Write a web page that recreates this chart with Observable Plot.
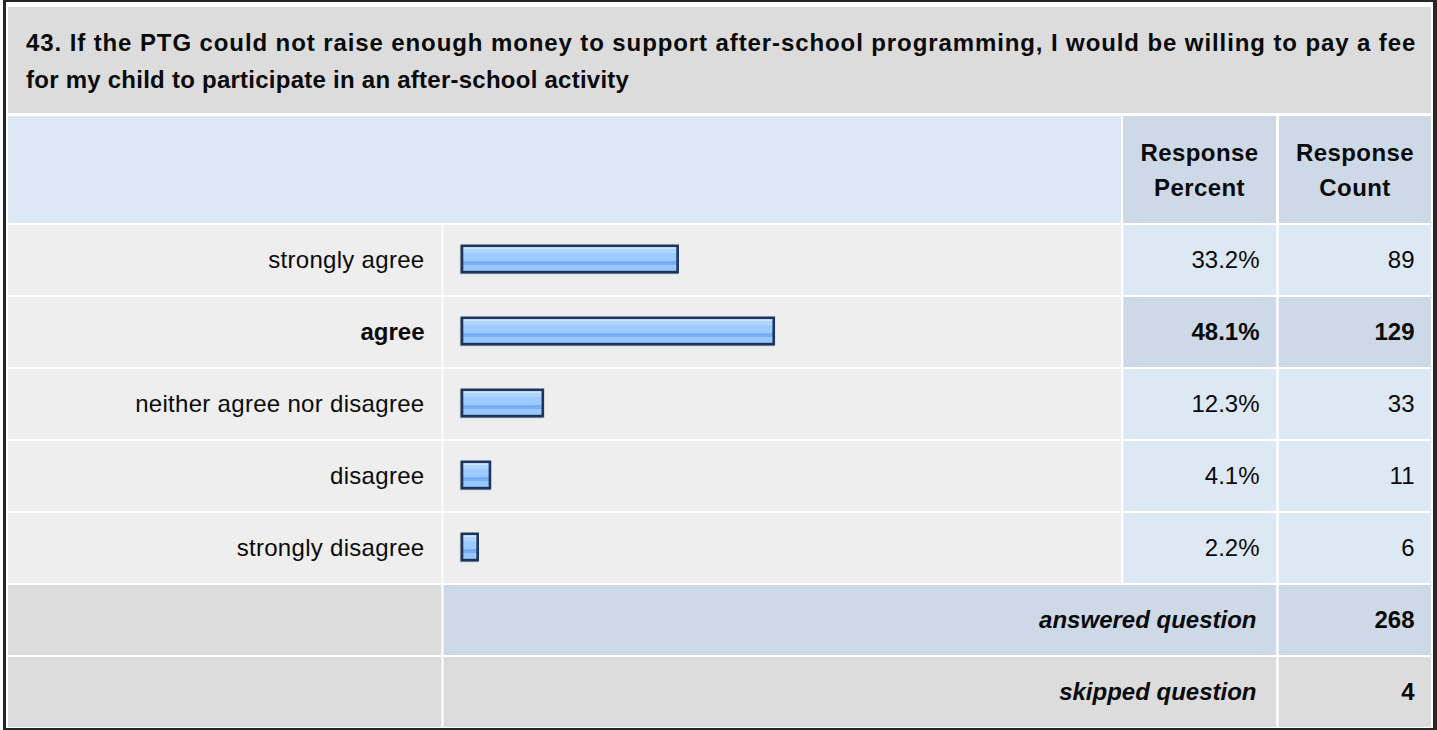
<!DOCTYPE html>
<html>
<head>
<meta charset="utf-8">
<script src="https://cdn.jsdelivr.net/npm/d3@7"></script>
<script src="https://cdn.jsdelivr.net/npm/@observablehq/plot@0.6"></script>
<style>
  html, body { margin: 0; padding: 0; background: #fff; }
  #wrap { position: absolute; left: 0; top: 0; width: 1437px; height: 730px; background: #fff; overflow: hidden;
          font-family: "Liberation Sans", Arial, Helvetica, sans-serif; color: #0a0a0a; }
  .b { position: absolute; background: #262626; }
  .cell { position: absolute; box-sizing: border-box; }
  #title { left: 8px; top: 7px; width: 1423px; height: 106px; background: #dcdcdc; padding-left: 18px;
           display: flex; flex-direction: column; justify-content: center; font-weight: bold; font-size: 24px;
           line-height: 37px; padding-top: 1px; white-space: nowrap; }
  #title div:first-child { letter-spacing: 0.9px; }
  #title div:last-child { letter-spacing: 0.25px; }
  .hdr { top: 116px; height: 107px; background: #cdd9e6; display: flex; flex-direction: column; justify-content: center;
         align-items: center; font-weight: bold; font-size: 24px; line-height: 35px; padding-top: 1px; letter-spacing: 0.4px; }
  #plot { position: absolute; left: 0; top: 224.7px; }
</style>
</head>
<body>
<div id="wrap">
  <div class="b" style="left:3px;top:0;width:1434px;height:2px"></div>
  <div class="b" style="left:3px;top:0;width:3px;height:730px"></div>
  <div class="b" style="left:1433px;top:0;width:4px;height:730px"></div>
  <div class="b" style="left:3px;top:728px;width:1434px;height:2px"></div>
  <div id="title" class="cell"></div>
  <div class="cell" style="left:8px;top:116px;width:1113px;height:107px;background:#dce8f5"></div>
  <div id="hdr0" class="cell hdr" style="left:1123px;width:153px"></div>
  <div id="hdr1" class="cell hdr" style="left:1279px;width:152px"></div>
  <div id="plot"></div>
</div>
<script>
// ---------- data ----------
const titleLines = [
  "43. If the PTG could not raise enough money to support after-school programming, I would be willing to pay a fee",
  "for my child to participate in an after-school activity"
];
const headerPercent = ["Response", "Percent"];
const headerCount = ["Response", "Count"];
const categories = ["strongly agree", "agree", "neither agree nor disagree", "disagree", "strongly disagree"];
const percents = [33.2, 48.1, 12.3, 4.1, 2.2];
const counts = [89, 129, 33, 11, 6];
const highlightCategory = "agree";
const footerLabels = ["answered question", "skipped question"];
const footerValues = [268, 4];

// ---------- html parts ----------
document.getElementById("title").innerHTML = titleLines.map(t => `<div>${t}</div>`).join("");
document.getElementById("hdr0").innerHTML = headerPercent.map(t => `<div>${t}</div>`).join("");
document.getElementById("hdr1").innerHTML = headerCount.map(t => `<div>${t}</div>`).join("");

// ---------- plot ----------
const W = 1437;
const rows = categories.map((c, i) => ({cat: c, pct: percents[i], count: counts[i], hi: c === highlightCategory}));
const footer = footerLabels.map((l, i) => ({cat: l, value: footerValues[i]}));
const allRows = [...categories, ...footerLabels];

const COL = {
  label: [8, 441.5],
  bar: [443.5, 1121],
  pct: [1123.3, 1276.2],
  cnt: [1278.7, 1431],
  span: [443.5, 1276.2]
};
const cell = (data, col, fill) => Plot.cell(data, {
  y: "cat", fill, insetLeft: col[0], insetRight: W - col[1], insetTop: 0, insetBottom: 2
});

const gradient = () => {
  const defs = d3.create("svg:defs");
  const g = defs.append("linearGradient").attr("id", "barGrad")
    .attr("x1", 0).attr("y1", 0).attr("x2", 0).attr("y2", 1);
  const stops = [
    [0, "#cfe6ff"], [0.14, "#cfe6ff"], [0.14, "#b0d6ff"], [0.27, "#b0d6ff"],
    [0.27, "#9dcbff"], [0.56, "#9dcbff"], [0.56, "#78aff0"], [0.74, "#78aff0"],
    [0.74, "#98c7fb"], [1, "#98c7fb"]
  ];
  for (const [o, c] of stops) g.append("stop").attr("offset", o).attr("stop-color", c);
  return defs.node();
};

const font = {fontFamily: "Liberation Sans, Arial, Helvetica, sans-serif", fontSize: 24, fill: "#0a0a0a"};
const barOpts = {x: "pct", y: "cat", strokeWidth: 2.6, insetTop: 20.8, insetBottom: 24.9, insetLeft: -1.5};

const chart = Plot.plot({
  width: W,
  height: 504,
  margin: 0,
  style: {background: "transparent", fontFamily: "Liberation Sans, Arial, sans-serif"},
  x: {domain: [0, 100], range: [463.5, 1108.5], axis: null},
  y: {domain: allRows, padding: 0, axis: null},
  marks: [
    gradient,
    // answer rows
    cell(rows, COL.label, "#eeeeee"),
    cell(rows, COL.bar, "#eeeeee"),
    cell(rows.filter(d => !d.hi), COL.pct, "#dde8f5"),
    cell(rows.filter(d => !d.hi), COL.cnt, "#dde8f5"),
    cell(rows.filter(d => d.hi), COL.pct, "#cdd9e6"),
    cell(rows.filter(d => d.hi), COL.cnt, "#cdd9e6"),
    // footer rows
    cell(footer, COL.label, "#dcdcdc"),
    cell(footer.slice(0, 1), COL.span, "#cdd9e6"),
    cell(footer.slice(0, 1), COL.cnt, "#cdd9e6"),
    cell(footer.slice(1), COL.span, "#dcdcdc"),
    cell(footer.slice(1), COL.cnt, "#dcdcdc"),
    // bars: shadow then gradient bar
    Plot.barX(rows, {...barOpts, fill: "#7d8a99", stroke: "#7d8a99", dx: -0.8, dy: 0.8, opacity: 0.7}),
    Plot.barX(rows, {...barOpts, fill: "url(#barGrad)", stroke: "#1b355c"}),
    // labels
    Plot.text(rows.filter(d => !d.hi), {y: "cat", text: "cat", frameAnchor: "left", dx: 424, dy: -1, textAnchor: "end", ...font}),
    Plot.text(rows.filter(d => d.hi), {y: "cat", text: "cat", frameAnchor: "left", dx: 424, dy: -1, textAnchor: "end", fontWeight: "bold", ...font}),
    Plot.text(rows.filter(d => !d.hi), {y: "cat", text: d => d.pct.toFixed(1) + "%", frameAnchor: "left", dx: 1259, dy: -1, textAnchor: "end", ...font}),
    Plot.text(rows.filter(d => d.hi), {y: "cat", text: d => d.pct.toFixed(1) + "%", frameAnchor: "left", dx: 1259, dy: -1, textAnchor: "end", fontWeight: "bold", ...font}),
    Plot.text(rows.filter(d => !d.hi), {y: "cat", text: d => String(d.count), frameAnchor: "left", dx: 1414, dy: -1, textAnchor: "end", ...font}),
    Plot.text(rows.filter(d => d.hi), {y: "cat", text: d => String(d.count), frameAnchor: "left", dx: 1414, dy: -1, textAnchor: "end", fontWeight: "bold", ...font}),
    // footer text
    Plot.text(footer, {y: "cat", text: "cat", frameAnchor: "left", dx: 1256, dy: -1, textAnchor: "end", fontWeight: "bold", fontStyle: "italic", ...font}),
    Plot.text(footer, {y: "cat", text: d => String(d.value), frameAnchor: "left", dx: 1414, dy: -1, textAnchor: "end", fontWeight: "bold", ...font})
  ]
});
// slight letter spacing on the regular row labels, as in the reference
chart.querySelectorAll("text").forEach(t => {
  if (categories.includes(t.textContent) && t.textContent !== highlightCategory) t.setAttribute("letter-spacing", "0.3");
});
document.getElementById("plot").appendChild(chart);
</script>
</body>
</html>
